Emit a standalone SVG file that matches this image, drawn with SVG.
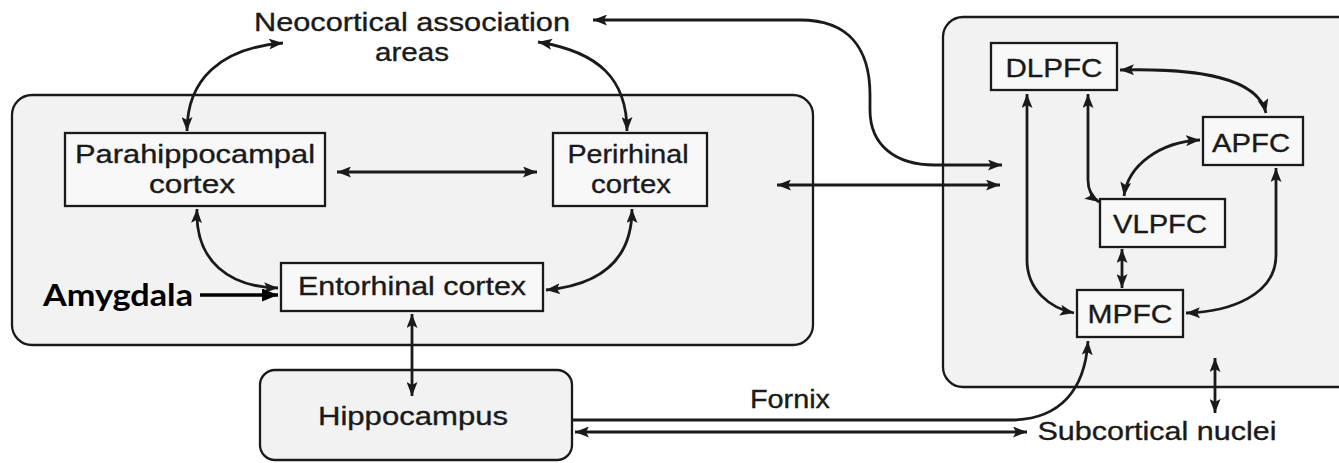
<svg xmlns="http://www.w3.org/2000/svg" width="1339" height="463" viewBox="0 0 1339 463">
<defs>
<marker id="ah" markerUnits="userSpaceOnUse" markerWidth="14" markerHeight="11" refX="14" refY="5.5" orient="auto-start-reverse" viewBox="0 0 14 11">
<path d="M0,0 L14,5.5 L0,11 L3,5.5 z" fill="#1a1a1a"/>
</marker>
<marker id="ahb" markerUnits="userSpaceOnUse" markerWidth="16" markerHeight="13" refX="16" refY="6.5" orient="auto" viewBox="0 0 16 13">
<path d="M0,0 L16,6.5 L0,13 z" fill="#000"/>
</marker>
<style>
.region{fill:#f2f2f2;stroke:#1a1a1a;stroke-width:2.3}
.node{fill:#f8f8f8;stroke:#1a1a1a;stroke-width:2.3}
.lbl{font-family:"Liberation Sans",Arial,sans-serif;font-size:26px;fill:#1a1a1a;stroke:#1a1a1a;stroke-width:0.35;text-anchor:middle}
.con{fill:none;stroke:#1a1a1a;stroke-width:2.8;marker-start:url(#ah);marker-end:url(#ah)}
.one{fill:none;stroke:#1a1a1a;stroke-width:2.8;marker-end:url(#ah)}
</style>
</defs>
<rect width="1339" height="463" fill="#ffffff"/>

<g id="mtl-region"><rect class="region" x="12" y="95" width="801" height="250" rx="20"/></g>
<g id="pfc-region"><rect class="region" x="943" y="17" width="420" height="370" rx="20"/></g>

<g id="neocortical"><text class="lbl" x="412" y="31" textLength="316" lengthAdjust="spacingAndGlyphs">Neocortical association</text><text class="lbl" x="412" y="61" textLength="74" lengthAdjust="spacingAndGlyphs">areas</text></g>
<g id="parahippocampal"><rect class="node" x="65" y="133" width="260" height="73"/><text class="lbl" x="195" y="163" textLength="240" lengthAdjust="spacingAndGlyphs">Parahippocampal</text><text class="lbl" x="192" y="193" textLength="86" lengthAdjust="spacingAndGlyphs">cortex</text></g>
<g id="perirhinal"><rect class="node" x="553" y="133" width="154" height="73"/><text class="lbl" x="628" y="163" textLength="121" lengthAdjust="spacingAndGlyphs">Perirhinal</text><text class="lbl" x="631" y="193" textLength="80" lengthAdjust="spacingAndGlyphs">cortex</text></g>
<g id="entorhinal"><rect class="node" x="281" y="263" width="262" height="48"/><text class="lbl" x="412" y="295" textLength="228" lengthAdjust="spacingAndGlyphs">Entorhinal cortex</text></g>
<g id="amygdala"><text x="43" y="306" textLength="150" lengthAdjust="spacingAndGlyphs" style="font-family:Lato,'Open Sans',sans-serif;font-weight:bold;font-size:30px;fill:#000">Amygdala</text></g>
<g id="hippocampus"><rect class="region" x="260" y="370" width="312" height="90" rx="15"/><text class="lbl" x="413" y="425" textLength="190" lengthAdjust="spacingAndGlyphs">Hippocampus</text></g>
<g id="fornix"><text class="lbl" x="790" y="408" textLength="80" lengthAdjust="spacingAndGlyphs">Fornix</text></g>
<g id="subcortical"><text class="lbl" x="1157" y="440" textLength="239" lengthAdjust="spacingAndGlyphs">Subcortical nuclei</text></g>
<g id="dlpfc"><rect class="node" x="991" y="43" width="126" height="47"/><text class="lbl" x="1054" y="77" textLength="97" lengthAdjust="spacingAndGlyphs">DLPFC</text></g>
<g id="apfc"><rect class="node" x="1203" y="117" width="100" height="48"/><text class="lbl" x="1251" y="152" textLength="78" lengthAdjust="spacingAndGlyphs">APFC</text></g>
<g id="vlpfc"><rect class="node" x="1100" y="199" width="125" height="48"/><text class="lbl" x="1160" y="233" textLength="94" lengthAdjust="spacingAndGlyphs">VLPFC</text></g>
<g id="mpfc"><rect class="node" x="1077" y="290" width="106" height="47"/><text class="lbl" x="1130" y="323" textLength="85" lengthAdjust="spacingAndGlyphs">MPFC</text></g>

<g id="connectors">
<path class="con" d="M283,43 C220,48 187,80 187,131"/>
<path class="con" d="M538,42 C600,52 627,80 627,131"/>
<path class="con" d="M337,172 L537,172"/>
<path class="con" d="M197,209 C195,262 230,287 278,288"/>
<path class="con" d="M632,209 C632,260 600,285 546,290"/>
<path fill="none" stroke="#000" stroke-width="3.6" marker-end="url(#ahb)" d="M200,295 L278,295"/>
<path class="con" d="M412,314 L412,396"/>
<path class="con" d="M593,20 L800,20 C850,20 870,50 870,95 L870,110 C870,145 895,165 935,165 L1002,165"/>
<path class="con" d="M777,185 L1000,185"/>
<path class="one" d="M572,420 L1010,420 C1060,420 1085,390 1088,341"/>
<path class="con" d="M575,432 L1027,432"/>
<path class="con" d="M1120,70 C1200,68 1258,78 1266,113"/>
<path class="con" d="M1027,94 L1027,260 C1027,290 1050,308 1074,313"/>
<path class="con" d="M1088,94 L1088,180 C1088,192 1093,198 1099,202"/>
<path class="con" d="M1200,140 C1160,142 1128,165 1124,196"/>
<path class="con" d="M1122,249 L1122,288"/>
<path class="con" d="M1276,168 L1276,255 C1276,295 1230,312 1186,313"/>
<path class="con" d="M1215,358 L1215,413"/>
</g>
</svg>
